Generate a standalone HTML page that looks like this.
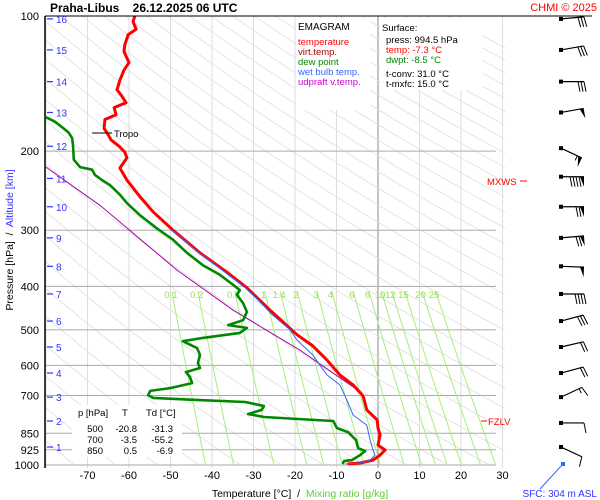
<!DOCTYPE html>
<html><head><meta charset="utf-8"><style>
body{margin:0;background:#fff;}
svg{display:block;font-family:"Liberation Sans",sans-serif;}
text{white-space:pre;}
</style></head><body>
<svg id="chart" width="600" height="500" viewBox="0 0 600 500" xmlns="http://www.w3.org/2000/svg">
<defs><clipPath id="plotclip"><rect x="45" y="16" width="460" height="452"/></clipPath></defs>
<rect x="0" y="0" width="600" height="500" fill="#fff"/>
<g id="grid" clip-path="url(#plotclip)"></g>
<g id="mixr"></g>
<g id="series" clip-path="url(#plotclip)"></g>
<g id="axes"></g>
<g id="barbs"></g>
<text x="50" y="12" font-size="12" font-weight="bold">Praha-Libus    26.12.2025 06 UTC</text>
<text x="597" y="11" font-size="11" fill="#f00" text-anchor="end">CHMI © 2025</text>
<g>
<rect x="296" y="18" width="74" height="92" fill="#fff"/>
<text x="298" y="30" font-size="10" fill="#000">EMAGRAM</text>
<text x="298" y="45" font-size="9.5" fill="#f00">temperature</text>
<text x="298" y="55" font-size="9.5" fill="#a00">virt.temp.</text>
<text x="298" y="65" font-size="9.5" fill="#080">dew point</text>
<text x="298" y="75" font-size="9.5" fill="#36f">wet bulb temp.</text>
<text x="298" y="85" font-size="9.5" fill="#c0c">udpraft v.temp.</text>
</g>
<g>
<rect x="380" y="18" width="103" height="72" fill="#fff"/>
<text x="382" y="31" font-size="9.5">Surface:</text>
<text x="386" y="43" font-size="9.5">press: 994.5 hPa</text>
<text x="386" y="53" font-size="9.5" fill="#f00">temp: -7.3 °C</text>
<text x="386" y="63" font-size="9.5" fill="#080">dwpt: -8.5 °C</text>
<text x="386" y="77" font-size="9.5">t-conv: 31.0 °C</text>
<text x="386" y="87" font-size="9.5">t-mxfc: 15.0 °C</text>
</g>
<g font-size="9.5">
<rect x="72" y="405" width="110" height="52" fill="#fff"/>
<text x="78" y="416">p [hPa]</text><text x="122" y="416">T</text><text x="146" y="416">Td [°C]</text>
<text x="103" y="432" text-anchor="end">500</text><text x="137" y="432" text-anchor="end">-20.8</text><text x="173" y="432" text-anchor="end">-31.3</text>
<text x="103" y="443" text-anchor="end">700</text><text x="137" y="443" text-anchor="end">-3.5</text><text x="173" y="443" text-anchor="end">-55.2</text>
<text x="103" y="454" text-anchor="end">850</text><text x="137" y="454" text-anchor="end">0.5</text><text x="173" y="454" text-anchor="end">-6.9</text>
</g>
<g>
<line x1="92" y1="133" x2="112" y2="133" stroke="#000" stroke-width="1"/>
<text x="114" y="137" font-size="9.5">Tropo</text>
</g>
<g>
<text x="487" y="185" font-size="9.5" fill="#f00">MXWS</text>
<line x1="520" y1="181" x2="527" y2="181" stroke="#f00"/>
</g>
<g>
<line x1="481" y1="421" x2="487" y2="421" stroke="#f00"/>
<text x="488" y="425" font-size="9.5" fill="#f00">FZLV</text>
</g>
<text transform="translate(13,240) rotate(-90)" font-size="10.5" text-anchor="middle">Pressure [hPa]  /  <tspan fill="#33f">Altitude [km]</tspan></text>
<text x="300" y="497" font-size="10.5" text-anchor="middle">Temperature [°C]  /  <tspan fill="#6c3">Mixing ratio [g/kg]</tspan></text>
<text x="597" y="497" font-size="10" fill="#33f" text-anchor="end">SFC: 304 m ASL</text>
<line x1="540" y1="489" x2="563" y2="464" stroke="#36f" stroke-width="1"/>
<rect x="561" y="462" width="4" height="4" fill="#36f"/>

<script>
// ===== data =====
const tempP = [100,103,107,110,116,120,127,132,139,146,150,156,160,166,170,178,182,189,195,201,207,218,232,253,273,300,337,372,403,452,513,543,584,630,663,702,754,794,827,858,903,926,950,975,990,994.5];
const tempT = [-58.6,-59.0,-58.3,-60.2,-61.0,-61.2,-60.0,-61.2,-62.2,-62.9,-61.9,-60.7,-63.6,-63.1,-65.8,-66.0,-65.3,-64.3,-62.4,-61.0,-60.5,-62.2,-60.5,-57.3,-54.2,-49.4,-42.9,-36.4,-31.6,-26.0,-19.5,-15.7,-12.3,-9.2,-6.0,-3.6,-2.7,-0.2,0.0,0.5,0.0,1.7,0.5,-1.2,-4.3,-7.3];
const dewP = [168,172,177,182,187,194,209,217,220,226,232,238,250,261,278,297,315,337,359,377,397,408,418,436,456,476,488,495,508,521,530,549,569,593,608,621,637,657,674,684,699,709,717,724,739,754,770,782,790,798,827,845,880,917,931,950,975,980,994.5];
const dewT = [-80,-77.8,-76.1,-74.5,-73.7,-73.5,-73.3,-71.8,-68.9,-68.2,-66.5,-64.6,-62.2,-60.5,-57.3,-53.3,-49.4,-46.0,-42.2,-38.1,-34.9,-33.3,-34.0,-32.5,-31.6,-32.5,-36.1,-31.6,-33.3,-42.2,-47.0,-43.6,-42.9,-43.4,-42.9,-46.3,-45.3,-44.8,-50.1,-54.9,-55.4,-54.2,-43.1,-32.0,-27.5,-28.0,-31.3,-27.5,-19.3,-10.8,-9.9,-7.2,-5.3,-4.8,-3.1,-4.3,-6.3,-8.2,-8.5];
const wetP = [300,337,372,403,429,463,500,527,569,599,630,663,717,774,815,880,926,950,975,990,994.5];
const wetT = [-49.6,-43.1,-36.9,-32.0,-28.9,-25.5,-21.2,-19.5,-15.7,-14.0,-12.3,-9.2,-7.5,-6.0,-2.7,-1.9,-1.2,-0.7,-1.9,-4.3,-7.8];
const parcelP = [217,264,368,452,555,691];
const parcelT = [-80,-67.0,-48.4,-34.9,-18.8,-3.9];
const mixLabels = ["0.1","0.2","0.5","1","1.4","2","3","4","6","8","10","12","15","20","25"];
const mixValues = [0.1,0.2,0.5,1,1.4,2,3,4,6,8,10,12,15,20,25];
const pressureTicks = [100,200,300,400,500,600,700,850,925,1000];
const tempTicks = [-70,-60,-50,-40,-30,-20,-10,0,10,20,30];
const altKm = [16,15,14,13,12,11,10,9,8,7,6,5,4,3,2,1];
const altP = [101.5,119,140,164,195,230,266,312,361,416,478,546,624,706,798,912];
const barbP = [101.5,119,140,164,197,228,266,312,361,416,478,546,624,706,806,912];
const barbDir = [85,80,90,80,115,90,90,85,92,90,75,77,75,65,90,115];
const barbSpd = [30,30,30,50,55,90,70,70,50,40,30,20,20,15,10,10];

// ===== scales =====
const X = t => 378 + 4.15 * t;
const Y = p => 16 + 449 * Math.log10(p / 100);
const NS = "http://www.w3.org/2000/svg";
function mk(tag, attrs, parent) {
  const e = document.createElementNS(NS, tag);
  for (const k in attrs) e.setAttribute(k, attrs[k]);
  parent.appendChild(e);
  return e;
}
const grid = document.getElementById('grid');
const axes = document.getElementById('axes');
const series = document.getElementById('series');
const mixr = document.getElementById('mixr');
const barbs = document.getElementById('barbs');

// vertical grid
for (let t = -80; t <= 30; t += 10) {
  const l = mk('line', {x1: X(t), y1: 16, x2: X(t), y2: 468, stroke: t === 0 ? '#888' : '#ddd', 'stroke-width': 1}, grid);
  
  
}
// dry adiabats
for (let th = 200; th <= 560; th += 10) {
  let d = '';
  for (let p = 100; p <= 1000; p += 10) {
    const T = th * Math.pow(p / 1000, 0.286) - 273.15;
    d += (p === 100 ? 'M' : 'L') + X(T).toFixed(1) + ',' + Y(p).toFixed(1);
  }
  const a = mk('path', {d: d, fill: 'none', stroke: '#dedede', 'stroke-width': 0.8}, grid);
  
  
}
// horizontal grid
pressureTicks.forEach(p => {
  const l = mk('line', {x1: 45, y1: Y(p), x2: p === 100 ? 592 : 496, y2: Y(p), stroke: p === 100 ? '#000' : '#aaa', 'stroke-width': 1}, p === 100 ? axes : grid);
  
  
  const tx = mk('text', {x: 39, y: Y(p) + 4, 'font-size': 11, 'text-anchor': 'end'}, axes);
  tx.textContent = p;
  
  
});
// mixing ratio lines
function tdFromW(w, p) {
  const e = w * p / (622 + w);
  const l = Math.log(e / 6.112);
  return 243.5 * l / (17.67 - l);
}
mixValues.forEach((w, i) => {
  let d = '';
  for (let p = 410; p <= 1000; p += 10) d += (p === 410 ? 'M' : 'L') + X(tdFromW(w, p)).toFixed(1) + ',' + Y(p).toFixed(1);
  const ln = mk('path', {d: d, fill: 'none', stroke: '#a6ee7a', 'stroke-width': 1}, mixr);
  
  
  const tx = mk('text', {x: X(tdFromW(w, 400)), y: 298, 'font-size': 9.5, fill: '#99dd55', 'text-anchor': 'middle'}, mixr);
  tx.textContent = mixLabels[i];
  
  
});
// axis border
const ax = mk('line', {x1: 45, y1: 16, x2: 45, y2: 468, stroke: '#000', 'stroke-width': 1.5}, axes);


tempTicks.forEach(t => {
  const tx = mk('text', {x: X(t), y: 479, 'font-size': 11, 'text-anchor': 'middle'}, axes);
  tx.textContent = t;
  
  
});
altKm.forEach((k, i) => {
  const y = Y(altP[i]);
  const l = mk('line', {x1: 47, y1: y, x2: 53, y2: y, stroke: '#33f', 'stroke-width': 1.2}, axes);
  
  
  const tx = mk('text', {x: 56, y: y + 4, 'font-size': 10, fill: '#33f'}, axes);
  tx.textContent = k;
  
  
});
// series
function line(P, T, color, w, name) {
  const d = P.map((p, i) => (i ? 'L' : 'M') + X(T[i]).toFixed(1) + ',' + Y(p).toFixed(1)).join('');
  const e = mk('path', {d: d, fill: 'none', stroke: color, 'stroke-width': w, 'stroke-linejoin': 'round'}, series);
  
  
}
line(parcelP, parcelT, '#a0a', 1, 'updraft-virtual-temperature-line');
line(dewP, dewT, '#080', 2.6, 'dew-point-line');
line(tempP, tempT, '#f00', 3, 'temperature-line');
line(wetP, wetT, '#36f', 1, 'wet-bulb-line');

// wind barbs
barbP.forEach((p, i) => {
  const y0 = Y(p), x0 = 561, L = 23;
  const a = barbDir[i] * Math.PI / 180;
  const ux = Math.sin(a), uy = -Math.cos(a);
  const x1 = x0 + L * ux, y1 = y0 + L * uy;
  const col = '#000';
  const g = mk('g', {}, barbs);
  
  
  mk('rect', {x: x0 - 2, y: y0 - 2, width: 4, height: 4, fill: col}, g);
  mk('line', {x1: x0, y1: y0, x2: x1, y2: y1, stroke: col, 'stroke-width': 1.2}, g);
  let s = barbSpd[i], pos = 0;
  const px = -uy, py = ux;
  const fx = (k) => x1 - ux * k, fy = (k) => y1 - uy * k;
  while (s >= 50) {
    mk('polygon', {points: `${fx(pos)},${fy(pos)} ${fx(pos + 4)},${fy(pos + 4)} ${fx(pos) + px * 10},${fy(pos) + py * 10}`, fill: col}, g);
    pos += 5; s -= 50;
  }
  while (s >= 10) {
    mk('line', {x1: fx(pos), y1: fy(pos), x2: fx(pos) + px * 10 + ux * 2, y2: fy(pos) + py * 10 + uy * 2, stroke: col, 'stroke-width': 1}, g);
    pos += 3; s -= 10;
  }
  if (s >= 5) {
    mk('line', {x1: fx(pos), y1: fy(pos), x2: fx(pos) + px * 5, y2: fy(pos) + py * 5, stroke: col, 'stroke-width': 1}, g);
  }
});
</script>
</svg>
</body></html>
